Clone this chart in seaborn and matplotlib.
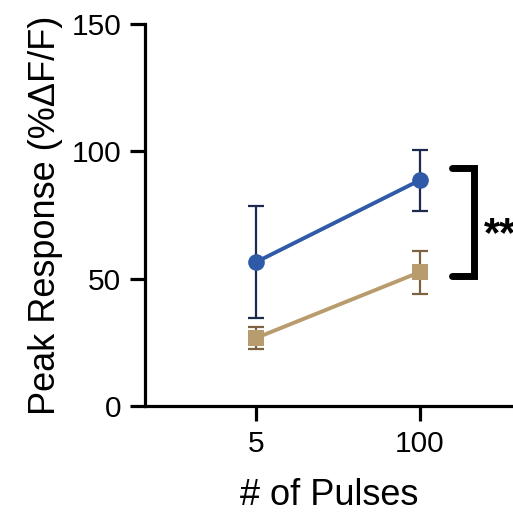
import numpy as np
import pandas as pd
import seaborn as sns
import matplotlib
matplotlib.use("Agg")
import matplotlib.pyplot as plt

# Mean peak responses and error (upper/lower bounds) per pulse count
pulses = ["5", "100"]
blue_mean = [56.5, 88.7]
blue_upper = [78.5, 100.5]
blue_lower = [34.5, 76.6]
tan_mean = [26.7, 52.6]
tan_upper = [31.0, 60.9]
tan_lower = [22.4, 44.0]

blue_line = "#2f5aa8"
blue_err = "#1b2a4e"
tan_line = "#b89c6e"
tan_err = "#7a6440"

sns.set_theme(style="ticks")
plt.rcParams["font.family"] = ["Liberation Sans", "DejaVu Sans"]
plt.rcParams["text.color"] = "black"
plt.rcParams["axes.labelcolor"] = "black"

fig = plt.figure(figsize=(5.13, 5.15), dpi=100)
ax = fig.add_axes([145 / 513, 109 / 515, (513 - 145) / 513, (406 - 24) / 515])

xpos = np.arange(len(pulses))
df = pd.DataFrame({
    "x": np.concatenate([xpos, xpos]),
    "y": blue_mean + tan_mean,
    "group": ["a"] * len(pulses) + ["b"] * len(pulses),
})

# error bars drawn beneath the markers
for mean, lo, hi, ec in [(blue_mean, blue_lower, blue_upper, blue_err),
                         (tan_mean, tan_lower, tan_upper, tan_err)]:
    mean = np.array(mean)
    yerr = np.vstack([mean - np.array(lo), np.array(hi) - mean])
    ax.errorbar(xpos, mean, yerr=yerr, fmt="none", ecolor=ec,
                elinewidth=1.6, capsize=6, capthick=1.6, zorder=2)

sns.lineplot(data=df, x="x", y="y", hue="group", style="group",
             palette=[blue_line, tan_line], markers=["o", "s"], dashes=False,
             markersize=12, markeredgewidth=0, linewidth=2.8, legend=False,
             ax=ax, zorder=3)

ax.set_xlim(-0.677, 1.567)
ax.set_ylim(0, 150)
ax.set_xticks(xpos)
ax.set_xticklabels(pulses)
ax.set_yticks([0, 50, 100, 150])

for side in ["top", "right"]:
    ax.spines[side].set_visible(False)
for side in ["left", "bottom"]:
    ax.spines[side].set_linewidth(2.3)
    ax.spines[side].set_color("black")
ax.tick_params(axis="both", length=11, width=2.3, labelsize=21.5, color="black",
               labelcolor="black", pad=6)

ax.set_xlabel("# of Pulses", fontsize=26, labelpad=15)
ax.set_ylabel("Peak Response (%\u0394F/F)", fontsize=26, labelpad=6)

# significance bracket between the two groups at 100 pulses
bx0, bx1 = 1.195, 1.33
by0, by1 = 51.0, 93.5
ax.plot([bx0, bx1, bx1, bx0], [by1, by1, by0, by0], color="black",
        linewidth=5, solid_joinstyle="miter", clip_on=False)
ax.text(1.39, 67.0, "**", fontsize=30, fontweight="bold", ha="left",
        va="center", clip_on=False)

fig.savefig("out.png", dpi=100)
